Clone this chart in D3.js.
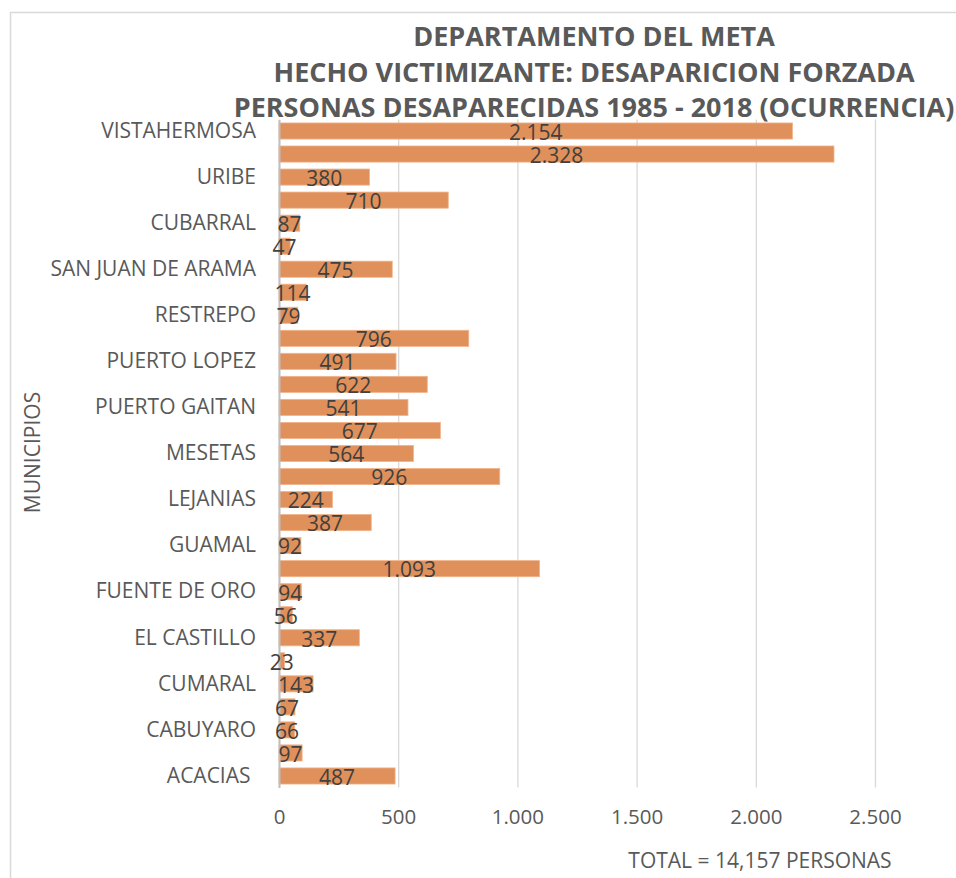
<!DOCTYPE html>
<html lang="es">
<head>
<meta charset="UTF-8">
<script src="https://d3js.org/d3.v7.min.js"></script>
<style>
  body { margin:0; background:#fff; }
  text { font-family: "Open Sans", sans-serif; }
</style>
<title>Desaparicion forzada - Meta</title>
</head>
<body>
<script>
// municipios, de abajo hacia arriba (como en la hoja de origen)
var municipios = [
  "ACACIAS ", "BARRANCA DE UPIA", "CABUYARO", "CASTILLA LA NUEVA", "CUMARAL",
  "EL CALVARIO", "EL CASTILLO", "EL DORADO", "FUENTE DE ORO", "GRANADA",
  "GUAMAL", "LA MACARENA", "LEJANIAS", "MAPIRIPAN", "MESETAS",
  "PUERTO CONCORDIA", "PUERTO GAITAN", "PUERTO LLERAS", "PUERTO LOPEZ", "PUERTO RICO",
  "RESTREPO", "SAN CARLOS DE GUAROA", "SAN JUAN DE ARAMA", "SAN JUANITO", "CUBARRAL",
  "SAN MARTIN", "URIBE", "VILLAVICENCIO", "VISTAHERMOSA"
];
var personas = [
  487, 97, 66, 67, 143,
  23, 337, 56, 94, 1093,
  92, 387, 224, 926, 564,
  677, 541, 622, 491, 796,
  79, 114, 475, 47, 87,
  710, 380, 2328, 2154
];
var xTicks = [0, 500, 1000, 1500, 2000, 2500];
var titulo = [
  "DEPARTAMENTO DEL META",
  "HECHO VICTIMIZANTE: DESAPARICION FORZADA",
  "PERSONAS DESAPARECIDAS 1985 - 2018 (OCURRENCIA)"
];
var tituloEjeY = "MUNICIPIOS";
var notaTotal = "TOTAL = 14,157 PERSONAS";

var data = municipios.map(function(m, i) { return {name: m, value: personas[i], idx: i}; });

var W = 956, H = 878;
var margin = {top: 119.5, right: 81, bottom: 90.5, left: 279},
    width = W - margin.left - margin.right,
    height = H - margin.top - margin.bottom;

var es = d3.formatLocale({decimal: ",", thousands: ".", grouping: [3], currency: ["$", ""]});
var fmt = es.format(",d");

var svg = d3.select("body").append("svg")
    .attr("width", W)
    .attr("height", H);

svg.append("rect").attr("width", W).attr("height", H).attr("fill", "#fff");
// borde del area del grafico
svg.append("rect")
    .attr("x", 10.5).attr("y", 12.5)
    .attr("width", W + 20).attr("height", H + 20)
    .attr("fill", "none")
    .attr("stroke", "#d9d9d9")
    .attr("stroke-width", 1.5);

var g = svg.append("g")
    .attr("transform", "translate(" + margin.left + "," + margin.top + ")");

var x = d3.scaleLinear().domain([0, 2500]).range([0, width]);
var y = d3.scaleBand()
    .domain(data.slice().reverse().map(function(d) { return d.name; }))
    .range([0, height])
    .paddingInner(0.3)
    .paddingOuter(0.15);

// lineas de division
g.append("g")
    .attr("class", "grid")
    .call(d3.axisBottom(x).tickValues(xTicks).tickSize(height).tickFormat(""))
    .call(function(s) {
      s.select(".domain").remove();
      s.selectAll("line").attr("stroke", "#d9d9d9").attr("stroke-width", 1.3);
    });

// eje x (etiquetas)
g.append("g")
    .attr("transform", "translate(0," + height + ")")
    .call(d3.axisBottom(x).tickValues(xTicks).tickSize(0).tickPadding(22).tickFormat(fmt))
    .call(function(s) {
      s.select(".domain").remove();
      s.selectAll("text")
        .attr("fill", "#595959")
        .style("font-size", "20.5px");
    });

// barras
g.selectAll(".bar").data(data).enter()
  .append("rect")
    .attr("class", "bar")
    .attr("x", x(0))
    .attr("y", function(d) { return y(d.name); })
    .attr("width", function(d) { return x(d.value) - x(0); })
    .attr("height", y.bandwidth())
    .attr("fill", "#e0905a")
    .attr("stroke", "#f2b48b")
    .attr("stroke-width", 0.8);

// eje y
g.append("g")
    .call(d3.axisLeft(y).tickSize(0).tickPadding(23)
      .tickFormat(function(d) {
        var i = municipios.indexOf(d);
        return i % 2 === 0 ? d : "";
      }))
    .call(function(s) {
      s.select(".domain").attr("stroke", "#bfbfbf").attr("stroke-width", 2);
      s.selectAll("text")
        .attr("fill", "#595959")
        .style("font-size", "21px")
        .style("white-space", "pre");
    });

// etiquetas de datos
g.selectAll(".lbl").data(data).enter()
  .append("text")
    .attr("class", "lbl")
    .attr("x", function(d) { return (x(0) + x(d.value)) / 2; })
    .attr("y", function(d) { return y(d.name) + y.bandwidth() / 2; })
    .attr("dy", "0.42em")
    .attr("text-anchor", "middle")
    .attr("fill", "#404040")
    .style("font-size", "21px")
    .text(function(d) { return fmt(d.value); });

// titulo
svg.append("g").selectAll("text").data(titulo).enter()
  .append("text")
    .attr("x", 594)
    .attr("y", function(d, i) { return 46 + i * 35.5; })
    .attr("text-anchor", "middle")
    .attr("fill", "#595959")
    .style("font-size", "27px")
    .style("font-weight", "bold")
    .text(function(d) { return d; });

// titulo eje y
svg.append("text")
    .attr("transform", "translate(40," + (margin.top + height / 2 - 1) + ") rotate(-90)")
    .attr("text-anchor", "middle")
    .attr("fill", "#595959")
    .style("font-size", "21px")
    .text(tituloEjeY);

// nota total
svg.append("text")
    .attr("x", 760)
    .attr("y", 868)
    .attr("text-anchor", "middle")
    .attr("fill", "#595959")
    .style("font-size", "21px")
    .text(notaTotal);
</script>
</body>
</html>
